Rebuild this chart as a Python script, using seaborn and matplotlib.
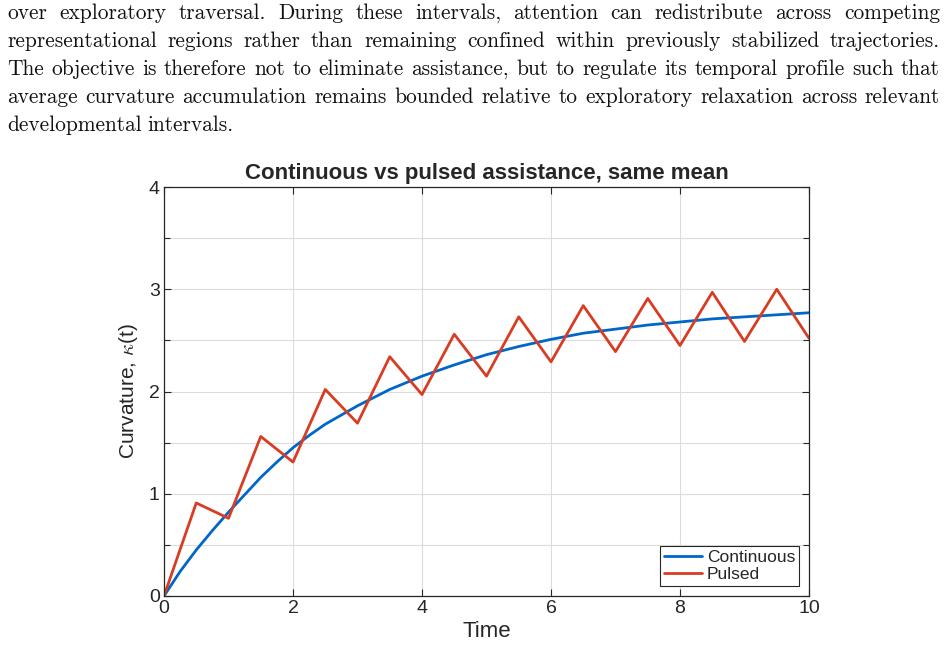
import numpy as np
import pandas as pd
import matplotlib
matplotlib.use('Agg')
import matplotlib.pyplot as plt
import seaborn as sb

# data
t_cont = [0, 0.25, 0.5, 0.75, 1, 1.25, 1.5, 1.75, 2, 2.25, 2.5, 2.75, 3, 3.5, 4, 4.5,
          5, 5.5, 6, 6.5, 7, 7.5, 8, 8.5, 9, 9.5, 10]
k_cont = [0, 0.24, 0.45, 0.64, 0.82, 0.99, 1.16, 1.31, 1.45, 1.57, 1.68, 1.77, 1.86,
          2.02, 2.15, 2.26, 2.36, 2.44, 2.51, 2.57, 2.61, 2.65, 2.68, 2.71, 2.73, 2.75, 2.77]
t_puls = [0, 0.5, 1, 1.5, 2, 2.5, 3, 3.5, 4, 4.5, 5, 5.5, 6, 6.5, 7, 7.5, 8, 8.5, 9, 9.5, 10]
k_puls = [0, 0.91, 0.76, 1.56, 1.31, 2.02, 1.69, 2.34, 1.97, 2.56, 2.15, 2.73, 2.29,
          2.84, 2.39, 2.91, 2.45, 2.97, 2.49, 3.00, 2.52]

para = [
    "over exploratory traversal.  During these intervals, attention can redistribute across competing",
    "representational regions rather than remaining confined within previously stabilized trajectories.",
    "The objective is therefore not to eliminate assistance, but to regulate its temporal profile such that",
    "average curvature accumulation remains bounded relative to exploratory relaxation across relevant",
    "developmental intervals.",
]

sb.set_style('ticks')
plt.rcParams['font.family'] = ['Liberation Sans', 'DejaVu Sans']
plt.rcParams['mathtext.fontset'] = 'cm'

fig = plt.figure(figsize=(9.47, 6.52), dpi=100)

# paragraph, justified word by word
fig.canvas.draw()
rend = fig.canvas.get_renderer()
x0, x1 = 7 / 947, 940 / 947
for i, line in enumerate(para):
    y = 1 - (13 + 28 * i) / 652
    words = line.split()
    txts = [fig.text(0, y, w, family='cmr10', fontsize=15.4, va='center', color='#111111')
            for w in words]
    widths = [tx.get_window_extent(rend).width / 947 for tx in txts]
    if i < len(para) - 1:
        gap = (x1 - x0 - sum(widths)) / (len(words) - 1)
    else:
        gap = 0.006
    x = x0
    for tx, w in zip(txts, widths):
        tx.set_x(x)
        x += w + gap

ax = fig.add_axes([164 / 947, 56 / 652, 645 / 947, 409 / 652])
df_c = pd.DataFrame({'t': t_cont, 'k': k_cont})
df_p = pd.DataFrame({'t': t_puls, 'k': k_puls})
sb.lineplot(data=df_c, x='t', y='k', ax=ax, color='#0066C8', lw=2, label='Continuous')
sb.lineplot(data=df_p, x='t', y='k', ax=ax, color='#D83C22', lw=2, label='Pulsed')

ax.set_xlim(0, 10)
ax.set_ylim(0, 4)
ax.set_xticks(np.arange(0, 11, 2))
ax.set_yticks(np.arange(0, 5, 1))
ax.set_yticks(np.arange(0, 4.01, 0.5), minor=True)
ax.grid(True, which='both', color='#dcdcdc', lw=0.8)
ax.set_axisbelow(True)
ax.tick_params(which='both', direction='in', top=True, right=True, length=5,
               width=0.8, color='#262626', labelsize=14, labelcolor='#262626', pad=3)
ax.tick_params(which='minor', length=4)
for s in ax.spines.values():
    s.set_color('#262626')
    s.set_linewidth(0.9)

ax.set_xlabel('Time', fontsize=16, color='#262626', labelpad=3)
ax.set_ylabel(r'Curvature, $\kappa$(t)', fontsize=15, color='#262626', labelpad=6)
ax.set_title('Continuous vs pulsed assistance, same mean', fontsize=16,
             fontweight='bold', color='#262626', pad=6)

leg = ax.legend(loc='lower right', fontsize=12.5, frameon=True, fancybox=False,
                edgecolor='#262626', framealpha=1, handlelength=2.2, handletextpad=0.25,
                borderpad=0.25, labelspacing=0.1, borderaxespad=0.55)
leg.get_frame().set_linewidth(0.8)

fig.savefig('out.png', dpi=100)
